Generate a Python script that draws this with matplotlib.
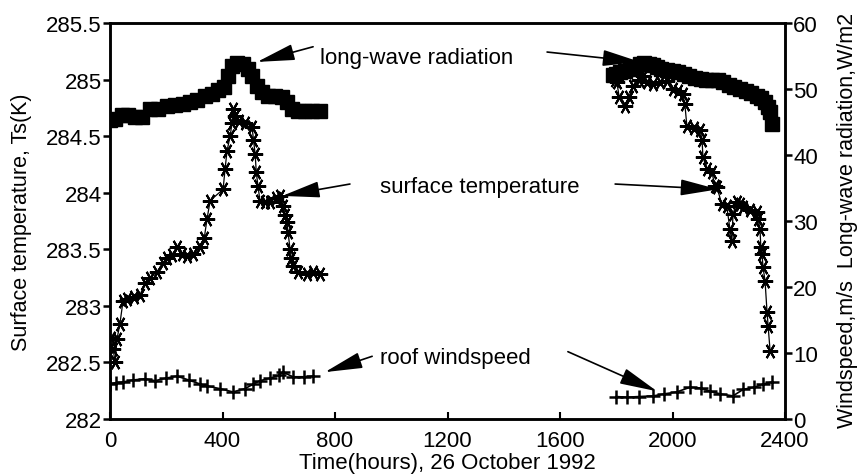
import matplotlib
matplotlib.use('Agg')
import matplotlib.pyplot as plt

plt.rcParams['font.family'] = ['Liberation Sans', 'DejaVu Sans']

# long-wave radiation (W/m2), right axis
rad_t1 = [0, 18, 43, 64, 89, 114, 142, 171, 203, 231, 260, 284, 309, 338, 363,
          384, 405, 420, 434, 452, 473, 491, 505, 523, 540, 562, 587, 612, 629,
          647, 668, 693, 718, 747]
rad_v1 = [45.3, 45.5, 46.0, 46.0, 45.8, 45.8, 46.9, 47.0, 47.4, 47.6, 47.7, 48.0,
          48.3, 49.0, 49.3, 49.8, 50.3, 52.0, 53.5, 54.0, 53.8, 53.0, 52.0, 50.5,
          49.5, 49.0, 49.0, 48.8, 48.0, 47.0, 46.6, 46.7, 46.7, 46.7]
rad_t2 = [1790, 1800, 1815, 1830, 1850, 1870, 1885, 1900, 1915, 1930, 1945, 1960,
          1980, 2000, 2020, 2040, 2060, 2080, 2100, 2120, 2140, 2160, 2180, 2200,
          2220, 2240, 2260, 2280, 2300, 2315, 2330, 2340, 2347, 2353]
rad_v2 = [52.1, 52.3, 52.6, 52.8, 53.1, 53.4, 53.8, 54.0, 53.8, 53.6, 53.3, 53.0,
          52.9, 52.8, 52.6, 52.3, 52.0, 51.7, 51.5, 51.4, 51.4, 51.3, 51.0, 50.6,
          50.3, 50.0, 49.7, 49.4, 49.0, 48.7, 48.0, 47.3, 46.5, 44.7]

# surface temperature (K), left axis
ts_t1 = [5, 11, 18, 25, 35, 46, 60, 85, 107, 125, 142, 167, 190, 203, 220, 238,
         255, 274, 295, 320, 335, 345, 356, 402, 409, 416, 427, 434, 437, 445,
         460, 480, 505, 510, 516, 520, 526, 533, 550, 569, 590, 604, 615, 622,
         629, 633, 640, 645, 651, 670, 700, 722, 747]
ts_v1 = [282.72, 282.62, 282.5, 282.71, 282.84, 283.04, 283.06, 283.08, 283.1,
         283.2, 283.25, 283.3, 283.38, 283.42, 283.45, 283.52, 283.46, 283.44,
         283.46, 283.52, 283.6, 283.77, 283.93, 284.03, 284.21, 284.37, 284.5,
         284.62, 284.74, 284.68, 284.63, 284.62, 284.58, 284.47, 284.34, 284.18,
         284.06, 283.93, 283.92, 283.92, 283.95, 283.97, 283.88, 283.8, 283.74,
         283.65, 283.5, 283.42, 283.35, 283.3, 283.28, 283.3, 283.28]
ts_t2 = [1795, 1802, 1810, 1831, 1845, 1860, 1880, 1895, 1910, 1931, 1955, 1980,
         2002, 2020, 2037, 2044, 2051, 2075, 2098, 2105, 2108, 2122, 2140, 2151,
         2158, 2175, 2193, 2204, 2211, 2215, 2229, 2240, 2251, 2275, 2300, 2304,
         2311, 2314, 2318, 2322, 2329, 2336, 2340, 2347]
ts_v2 = [285.0, 284.98, 284.85, 284.77, 284.85, 284.94, 285.0, 285.03, 284.98,
         284.96, 284.98, 284.99, 284.92, 284.9, 284.87, 284.78, 284.59, 284.57,
         284.55, 284.47, 284.32, 284.21, 284.18, 284.06, 284.05, 283.9, 283.88,
         283.68, 283.57, 283.81, 283.92, 283.9, 283.87, 283.85, 283.83, 283.77,
         283.68, 283.52, 283.46, 283.34, 283.22, 282.95, 282.82, 282.6]

# roof windspeed (m/s), right axis
ws_t1 = [0, 20, 46, 80, 124, 160, 200, 238, 280, 320, 345, 390, 437, 480, 510,
         533, 570, 600, 615, 650, 690, 722]
ws_v1 = [5.3, 5.5, 5.6, 5.9, 6.1, 5.8, 6.2, 6.5, 5.9, 5.3, 5.0, 4.6, 4.1, 4.6,
         5.3, 5.8, 6.2, 6.6, 7.1, 6.4, 6.4, 6.5]
ws_t2 = [1800, 1838, 1880, 1932, 1970, 2015, 2062, 2100, 2133, 2170, 2215, 2252,
         2290, 2323, 2353]
ws_v2 = [3.4, 3.3, 3.4, 3.5, 3.8, 4.1, 4.8, 4.7, 4.2, 3.8, 3.5, 4.5, 4.8, 5.3, 5.6]

fig = plt.figure(figsize=(8.57, 4.77), dpi=100)
ax = fig.add_axes([0.1284, 0.1195, 0.7876, 0.8302])
ax2 = ax.twinx()

star = (6, 2, 90)
for t, v in [(ts_t1, ts_v1), (ts_t2, ts_v2)]:
    ax.plot(t, v, color='black', lw=0.9, marker=star, ms=11, mew=1.5)

for t, v in [(rad_t1, rad_v1), (rad_t2, rad_v2)]:
    ax2.plot(t, v, color='black', lw=1, marker='s', ms=10)
for t, v in [(ws_t1, ws_v1), (ws_t2, ws_v2)]:
    ax2.plot(t, v, color='black', lw=1.2, marker='+', ms=10, mew=1.8)

ax.set_xlim(0, 2400)
ax.set_ylim(282, 285.5)
ax2.set_ylim(0, 60)
ax.set_xticks([0, 400, 800, 1200, 1600, 2000, 2400])
ax.set_yticks([282, 282.5, 283, 283.5, 284, 284.5, 285, 285.5])
ax.set_yticklabels(['282', '282.5', '283', '283.5', '284', '284.5', '285', '285.5'])
ax2.set_yticks([0, 10, 20, 30, 40, 50, 60])

for a in (ax, ax2):
    for s in a.spines.values():
        s.set_linewidth(1.8)
ax.tick_params(axis='y', direction='out', length=5, width=1.8, labelsize=16, pad=1)
ax.tick_params(axis='x', direction='in', length=5, width=1.5, labelsize=16, pad=8)
ax2.tick_params(axis='y', direction='out', length=5, width=1.8, labelsize=16, pad=1)

ax.set_xlabel('Time(hours), 26 October 1992', fontsize=16)
ax.xaxis.set_label_coords(0.5, -0.084)
ax.set_ylabel('Surface temperature, Ts(K)', fontsize=15.5)
ax.yaxis.set_label_coords(-0.115, 0.5)
ax2.set_ylabel('Windspeed,m/s  Long-wave radiation,W/m2', fontsize=15.5)
ax2.yaxis.set_label_coords(1.077, 0.505)

arrow = dict(arrowstyle='-|>,head_length=1.3,head_width=0.28', color='black',
             lw=1.2, mutation_scale=18, shrinkA=0, shrinkB=0)
ax2.text(747, 54.8, 'long-wave radiation', fontsize=16, ha='left', va='center')
ax2.annotate('', xy=(523, 54.1), xytext=(722, 56.4), arrowprops=arrow)
ax2.annotate('', xy=(1885, 54.1), xytext=(1554, 55.6), arrowprops=arrow)

ax2.text(960, 35.3, 'surface temperature', fontsize=16, ha='left', va='center')
ax2.annotate('', xy=(612, 33.8), xytext=(853, 35.6), arrowprops=arrow)
ax2.annotate('', xy=(2162, 34.8), xytext=(1796, 35.6), arrowprops=arrow)

ax2.text(960, 9.3, 'roof windspeed', fontsize=16, ha='left', va='center')
ax2.annotate('', xy=(764, 7.1), xytext=(932, 9.5), arrowprops=arrow)
ax2.annotate('', xy=(1945, 4.2), xytext=(1628, 10.2), arrowprops=arrow)

fig.savefig('out.png', dpi=100)
